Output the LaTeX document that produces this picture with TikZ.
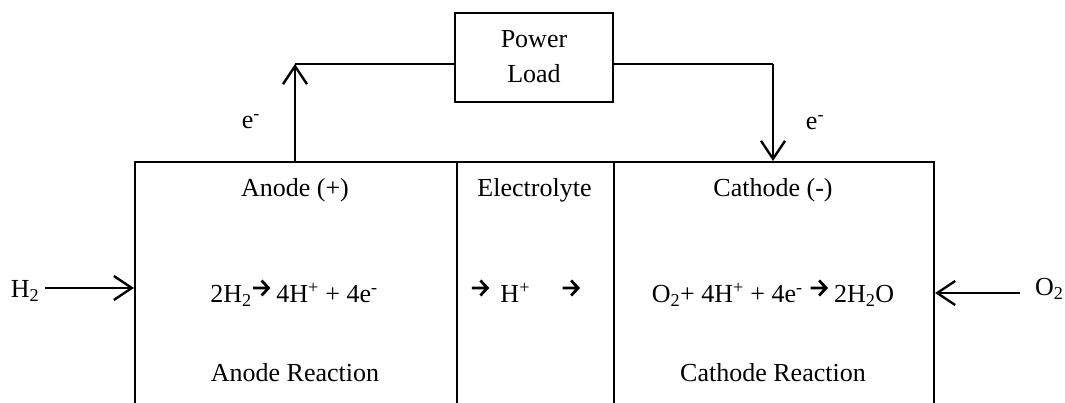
\documentclass[tikz,border=0pt]{standalone}
\usepackage{fontspec}
\setmainfont{Liberation Serif}
\usetikzlibrary{arrows.meta,calc}
\newcommand\harr{\tikz[baseline=0pt,x=1pt,y=1pt]\draw[line width=2.8pt,line join=miter] (0,15)--(15.5,15) (8.5,22.5)--(15.5,15)--(8.5,7.5);}
\tikzset{
  cell/.style={draw, line width=2pt, inner sep=0pt, anchor=north west},
  lbl/.style={font=\fontsize{26}{31}\selectfont, inner sep=0pt, anchor=base},
  wire/.style={line width=2pt},
  arr/.style={line width=2pt, -{Straight Barb[length=18pt,width=24pt,line width=2.4pt]}},
}
\begin{document}
\begin{tikzpicture}[x=1pt,y=1pt]
\useasboundingbox (0,0) rectangle (1065,403);
\clip (0,0) rectangle (1065,403);
% main cells
\node[cell, minimum width=322, minimum height=260] (anode) at (134,242) {};
\node[cell, minimum width=157, minimum height=260] (elec) at (456,242) {};
\node[cell, minimum width=320, minimum height=260] (cathode) at (613,242) {};
% power load
\node[draw, line width=2pt, minimum width=158, minimum height=89, inner sep=0pt] (load) at (534,345.5) {};
\node[lbl] (power) at (534,355) {Power};
\node[lbl] (loadtxt) at (534,320) {Load};
% wires
\coordinate (lw) at (295,339);
\coordinate (rw) at (773,339);
\draw[arr] (lw |- anode.north) -- (lw);
\draw[wire] (lw) -- (lw -| load.west);
\draw[wire] (load.east |- rw) -- (rw);
\draw[arr] (rw) -- (rw |- cathode.north);
\node[lbl] (eleft) at (251,274) {e\textsuperscript{-}};
\node[lbl] (eright) at (815,273) {e\textsuperscript{-}};
% headers
\node[lbl] (anodeh) at (295,206) {Anode (+)};
\node[lbl] (elech) at (534.5,206) {Electrolyte};
\node[lbl] (cathh) at (773,206) {Cathode (-)};
% equations
\node[lbl] (aeq) at (294,100) {2H\textsubscript{2}\harr{} 4H\textsuperscript{+} + 4e\textsuperscript{-}};
\node[lbl] (heq) at (525,100) {\harr{}\hspace{0.45em}H\textsuperscript{+}\hspace{1.2em}\harr{}};
\node[lbl] (ceq) at (773,100) {O\textsubscript{2}+ 4H\textsuperscript{+} + 4e\textsuperscript{-} \harr{} 2H\textsubscript{2}O};
\node[lbl] (areact) at (295,21) {Anode Reaction};
\node[lbl] (creact) at (773,21) {Cathode Reaction};
% gas inputs
\node[lbl] (h2) at (25,105) {H\textsubscript{2}};
\node[lbl, anchor=base west] (o2) at (1035,107) {O\textsubscript{2}};
\coordinate (h2s) at (45,115);
\coordinate (o2s) at (1020,110);
\draw[arr] (h2s) -- (h2s -| anode.west);
\draw[arr] (o2s) -- (o2s -| cathode.east);
\end{tikzpicture}
\end{document}
